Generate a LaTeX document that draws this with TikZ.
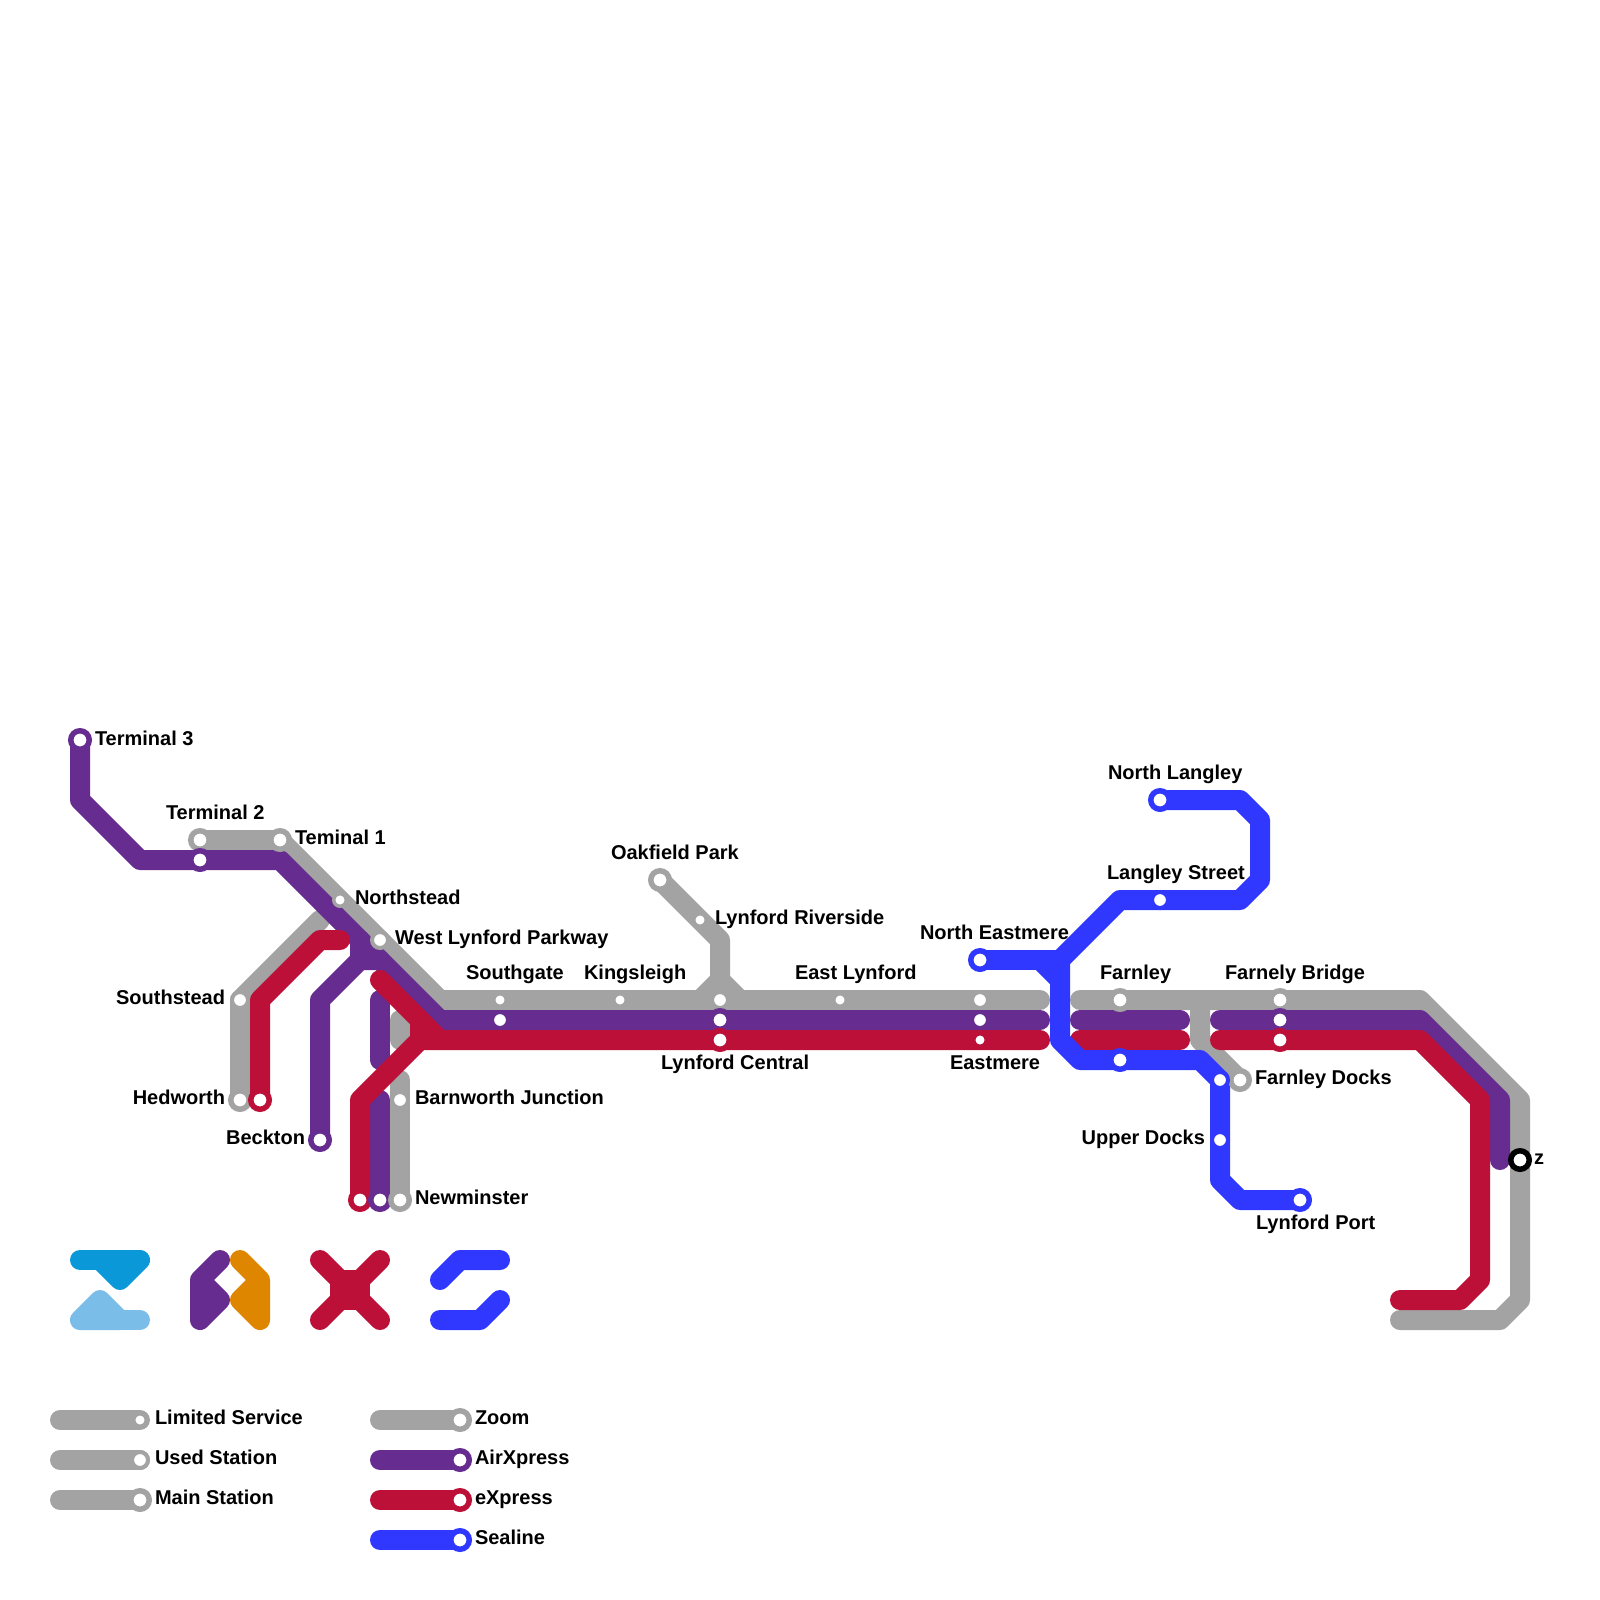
\documentclass[tikz,border=0pt]{standalone}
\usepackage{fontspec}
\setmainfont{Liberation Sans}
\usetikzlibrary{backgrounds}
\definecolor{cgrey}{HTML}{A3A3A3}
\definecolor{cpurple}{HTML}{662C90}
\definecolor{cred}{HTML}{BC1038}
\definecolor{cblue}{HTML}{3038FF}
\definecolor{ccyan}{HTML}{0A98D8}
\definecolor{clight}{HTML}{7BBDE9}
\definecolor{corange}{HTML}{DF8600}
\pgfdeclarelayer{lgrey}\pgfdeclarelayer{lpurple}\pgfdeclarelayer{lred}\pgfdeclarelayer{lblue}
\pgfsetlayers{lgrey,lpurple,lred,lblue,main}
\tikzset{
  x=1pt,y=-1pt,
  route/.style={line width=20pt,line cap=round,line join=round,draw=#1},
  mainst/.style={circle,inner sep=0pt,outer sep=0pt,fill=white,draw=#1,line width=5.5pt,minimum size=18.5pt},
  usedst/.style={circle,inner sep=0pt,outer sep=0pt,fill=white,draw=#1,line width=4pt,minimum size=16pt},
  limst/.style={circle,inner sep=0pt,outer sep=0pt,fill=white,draw=#1,line width=3.5pt,minimum size=12.5pt},
  lab/.style={inner sep=0pt,outer sep=0pt,font=\fontsize{20}{24}\selectfont\bfseries,text=black},
  labl/.style={lab,anchor=base west},
  labr/.style={lab,anchor=base east},
  sym/.style={line width=20pt,line cap=round,line join=round,draw=#1,fill=#1}
}
\begin{document}
\begin{tikzpicture}
\useasboundingbox (0,0) rectangle (1600,1600);
% stations
\node[mainst=cpurple] (t3) at (80,740) {};
\node[mainst=cgrey] (t2g) at (200,840) {};
\node[mainst=cpurple] (t2p) at (200,860) {};
\node[mainst=cgrey] (t1) at (280,840) {};
\node[limst=cgrey] (nst) at (340,900) {};
\node[usedst=cgrey] (wlp) at (380,940) {};
\node[limst=cgrey] (sgg) at (500,1000) {};
\node[usedst=cpurple] (sgp) at (500,1020) {};
\node[limst=cgrey] (kin) at (620,1000) {};
\node[mainst=cgrey] (oak) at (660,880) {};
\node[limst=cgrey] (riv) at (700,920) {};
\node[usedst=cgrey] (lcg) at (720,1000) {};
\node[mainst=cpurple] (lcp) at (720,1020) {};
\node[mainst=cred] (lcr) at (720,1040) {};
\node[limst=cgrey] (eal) at (840,1000) {};
\node[usedst=cgrey] (emg) at (980,1000) {};
\node[usedst=cpurple] (emp) at (980,1020) {};
\node[limst=cred] (emr) at (980,1040) {};
\node[usedst=cgrey] (sst) at (240,1000) {};
\node[mainst=cgrey] (hdg) at (240,1100) {};
\node[mainst=cred] (hdr) at (260,1100) {};
\node[mainst=cpurple] (bec) at (320,1140) {};
\node[usedst=cgrey] (bar) at (400,1100) {};
\node[mainst=cred] (nwr) at (360,1200) {};
\node[mainst=cpurple] (nwp) at (380,1200) {};
\node[mainst=cgrey] (nwg) at (400,1200) {};
\node[mainst=cblue] (nea) at (980,960) {};
\node[mainst=cblue] (nla) at (1160,800) {};
\node[usedst=cblue] (lst) at (1160,900) {};
\node[mainst=cgrey] (fag) at (1120,1000) {};
\node[mainst=cblue] (fab) at (1120,1060) {};
\node[mainst=cgrey] (fbg) at (1280,1000) {};
\node[mainst=cpurple] (fbp) at (1280,1020) {};
\node[mainst=cred] (fbr) at (1280,1040) {};
\node[mainst=cgrey] (fdo) at (1240,1080) {};
\node[usedst=cblue] (fdb) at (1220,1080) {};
\node[usedst=cblue] (upd) at (1220,1140) {};
\node[mainst=cblue] (lpo) at (1300,1200) {};
\node[mainst=black] (zst) at (1520,1160) {};
% free ends
\coordinate (gw1) at (1040,1000);
\coordinate (pw1) at (1040,1020);
\coordinate (rw1) at (1040,1040);
\coordinate (ge2) at (1400,1320);
\coordinate (re2) at (1400,1300);
\coordinate (pe2) at (1500,1160);
% grey
\begin{pgfonlayer}{lgrey}
\draw[route=cgrey] (t2g.center) -- (t1.center) -- (440,1000) -- (gw1);
\draw[route=cgrey] (hdg.center) -- (sst.center) -- (320,920);
\draw[route=cgrey] (oak.center) -- (720,940) -- (lcg.center);
\draw[route=cgrey] (700,1000) -- (720,980) -- (740,1000);
\draw[route=cgrey] (400,1020) -- (400,1040);
\draw[route=cgrey] (nwg.center) -- (400,1080);
\draw[route=cgrey] (1080,1000) -- (1420,1000) -- (1520,1100) -- (1520,1300) -- (1500,1320) -- (ge2);
\draw[route=cgrey] (1200,1000) -- (1200,1040) -- (fdo.center);
\end{pgfonlayer}
% purple
\begin{pgfonlayer}{lpurple}
\draw[route=cpurple] (t3.center) -- (80,800) -- (140,860) -- (280,860) -- (440,1020) -- (pw1);
\draw[route=cpurple] (bec.center) -- (320,1000) -- (360,960) -- (380,960);
\draw[route=cpurple] (360,960) -- (360,940);
\draw[route=cpurple] (380,1000) -- (380,1060);
\draw[route=cpurple] (nwp.center) -- (380,1100);
\draw[route=cpurple] (1080,1020) -- (1180,1020);
\draw[route=cpurple] (1220,1020) -- (1420,1020) -- (1500,1100) -- (pe2);
\end{pgfonlayer}
% red
\begin{pgfonlayer}{lred}
\draw[route=cred] (hdr.center) -- (260,1000) -- (320,940) -- (340,940);
\draw[route=cred] (nwr.center) -- (360,1100) -- (420,1040) -- (rw1);
\draw[route=cred] (380,980) -- (440,1040);
\draw[route=cred] (420,1020) -- (420,1040);
\draw[route=cred] (1080,1040) -- (1180,1040);
\draw[route=cred] (1220,1040) -- (1420,1040) -- (1480,1100) -- (1480,1280) -- (1460,1300) -- (re2);
\end{pgfonlayer}
% blue
\begin{pgfonlayer}{lblue}
\draw[route=cblue] (nea.center) -- (1060,960);
\draw[route=cblue] (1040,960) -- (1060,980);
\draw[route=cblue] (1060,960) -- (1120,900) -- (1240,900) -- (1260,880) -- (1260,820) -- (1240,800) -- (nla.center);
\draw[route=cblue] (1060,960) -- (1060,1040) -- (1080,1060) -- (1200,1060) -- (1220,1080) -- (1220,1180) -- (1240,1200) -- (lpo.center);
\end{pgfonlayer}
% labels
\node[labl] (l1) at (95,745.7) {Terminal 3};
\node[labl] (l2) at (166,819.7) {Terminal 2};
\node[labl] (l3) at (295,844.7) {Teminal 1};
\node[labl] (l4) at (355,904.7) {Northstead};
\node[labl] (l5) at (395,944.7) {West Lynford Parkway};
\node[labl] (l6) at (466,979.7) {Southgate};
\node[labl] (l7) at (584,979.7) {Kingsleigh};
\node[labl] (l8) at (611,859.7) {Oakfield Park};
\node[labl] (l9) at (715,924.7) {Lynford Riverside};
\node[labl] (l10) at (795,979.7) {East Lynford};
\node[labl] (l11) at (661,1069.7) {Lynford Central};
\node[labl] (l12) at (950,1069.7) {Eastmere};
\node[labl] (l13) at (920,939.7) {North Eastmere};
\node[labl] (l14) at (1108,779.7) {North Langley};
\node[labl] (l15) at (1107,879.7) {Langley Street};
\node[labl] (l16) at (1100,979.7) {Farnley};
\node[labl] (l17) at (1225,979.7) {Farnely Bridge};
\node[labl] (l18) at (1255,1084.7) {Farnley Docks};
\node[labl] (l19) at (1256,1229.7) {Lynford Port};
\node[labl] (l20) at (1534,1164.7) {z};
\node[labl] (l21) at (415,1104.7) {Barnworth Junction};
\node[labl] (l22) at (415,1204.7) {Newminster};
\node[labr] (l23) at (225,1004.7) {Southstead};
\node[labr] (l24) at (225,1104.7) {Hedworth};
\node[labr] (l25) at (305,1144.7) {Beckton};
\node[labr] (l26) at (1205,1144.7) {Upper Docks};
% logo
\draw[sym=ccyan] (100,1260) -- (140,1260) -- (120,1280) -- cycle;
\draw[route=ccyan] (80,1260) -- (100,1260);
\draw[sym=clight] (100,1300) -- (120,1320) -- (80,1320) -- cycle;
\draw[route=clight] (120,1320) -- (140,1320);
\draw[sym=cpurple] (220,1260) -- (200,1280) -- (200,1320) -- (220,1300) -- (200,1280) -- cycle;
\draw[sym=corange] (240,1260) -- (260,1280) -- (260,1320) -- (240,1300) -- (260,1280) -- cycle;
\draw[route=cred] (320,1260) -- (380,1320);
\draw[route=cred] (380,1260) -- (320,1320);
\fill[cred] (330,1270) rectangle (370,1310);
\draw[route=cblue] (440,1280) -- (460,1260) -- (500,1260);
\draw[route=cblue] (440,1320) -- (480,1320) -- (500,1300);
% legend
\coordinate (k1) at (60,1420);
\coordinate (k2) at (60,1460);
\coordinate (k3) at (60,1500);
\coordinate (k4) at (380,1420);
\coordinate (k5) at (380,1460);
\coordinate (k6) at (380,1500);
\coordinate (k7) at (380,1540);
\draw[route=cgrey] (k1) -- (140,1420);
\draw[route=cgrey] (k2) -- (140,1460);
\draw[route=cgrey] (k3) -- (140,1500);
\draw[route=cgrey] (k4) -- (460,1420);
\draw[route=cpurple] (k5) -- (460,1460);
\draw[route=cred] (k6) -- (460,1500);
\draw[route=cblue] (k7) -- (460,1540);
\node[limst=cgrey] (s1) at (140,1420) {};
\node[usedst=cgrey] (s2) at (140,1460) {};
\node[mainst=cgrey] (s3) at (140,1500) {};
\node[mainst=cgrey] (s4) at (460,1420) {};
\node[mainst=cpurple] (s5) at (460,1460) {};
\node[mainst=cred] (s6) at (460,1500) {};
\node[mainst=cblue] (s7) at (460,1540) {};
\node[labl] (t1l) at (155,1424.7) {Limited Service};
\node[labl] (t2l) at (155,1464.7) {Used Station};
\node[labl] (t3l) at (155,1504.7) {Main Station};
\node[labl] (t4l) at (475,1424.7) {Zoom};
\node[labl] (t5l) at (475,1464.7) {AirXpress};
\node[labl] (t6l) at (475,1504.7) {eXpress};
\node[labl] (t7l) at (475,1544.7) {Sealine};
\end{tikzpicture}
\end{document}
